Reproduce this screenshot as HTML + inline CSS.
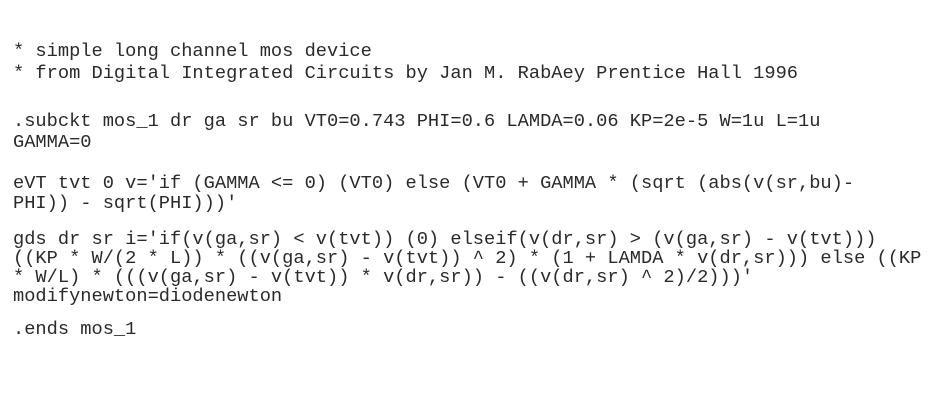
<!DOCTYPE html>
<html><head><meta charset="utf-8"><style>
html,body{margin:0;padding:0;background:#fff;width:938px;height:407px;overflow:hidden}
.l{position:absolute;left:13px;font-family:"Liberation Mono","Courier New",monospace;font-size:18.7px;line-height:20px;color:#2a2a2a;white-space:pre}
</style></head><body>
<div class="l" style="top:41px">* simple long channel mos device</div>
<div class="l" style="top:63px">* from Digital Integrated Circuits by Jan M. RabAey Prentice Hall 1996</div>
<div class="l" style="top:111px">.subckt mos_1 dr ga sr bu VT0=0.743 PHI=0.6 LAMDA=0.06 KP=2e-5 W=1u L=1u</div>
<div class="l" style="top:132px">GAMMA=0</div>
<div class="l" style="top:173px">eVT tvt 0 v='if (GAMMA &lt;= 0) (VT0) else (VT0 + GAMMA * (sqrt (abs(v(sr,bu)-</div>
<div class="l" style="top:193px">PHI)) - sqrt(PHI)))'</div>
<div class="l" style="top:229px">gds dr sr i='if(v(ga,sr) &lt; v(tvt)) (0) elseif(v(dr,sr) &gt; (v(ga,sr) - v(tvt)))</div>
<div class="l" style="top:248px">((KP * W/(2 * L)) * ((v(ga,sr) - v(tvt)) ^ 2) * (1 + LAMDA * v(dr,sr))) else ((KP</div>
<div class="l" style="top:267px">* W/L) * (((v(ga,sr) - v(tvt)) * v(dr,sr)) - ((v(dr,sr) ^ 2)/2)))'</div>
<div class="l" style="top:286px">modifynewton=diodenewton</div>
<div class="l" style="top:319px">.ends mos_1</div>
</body></html>
